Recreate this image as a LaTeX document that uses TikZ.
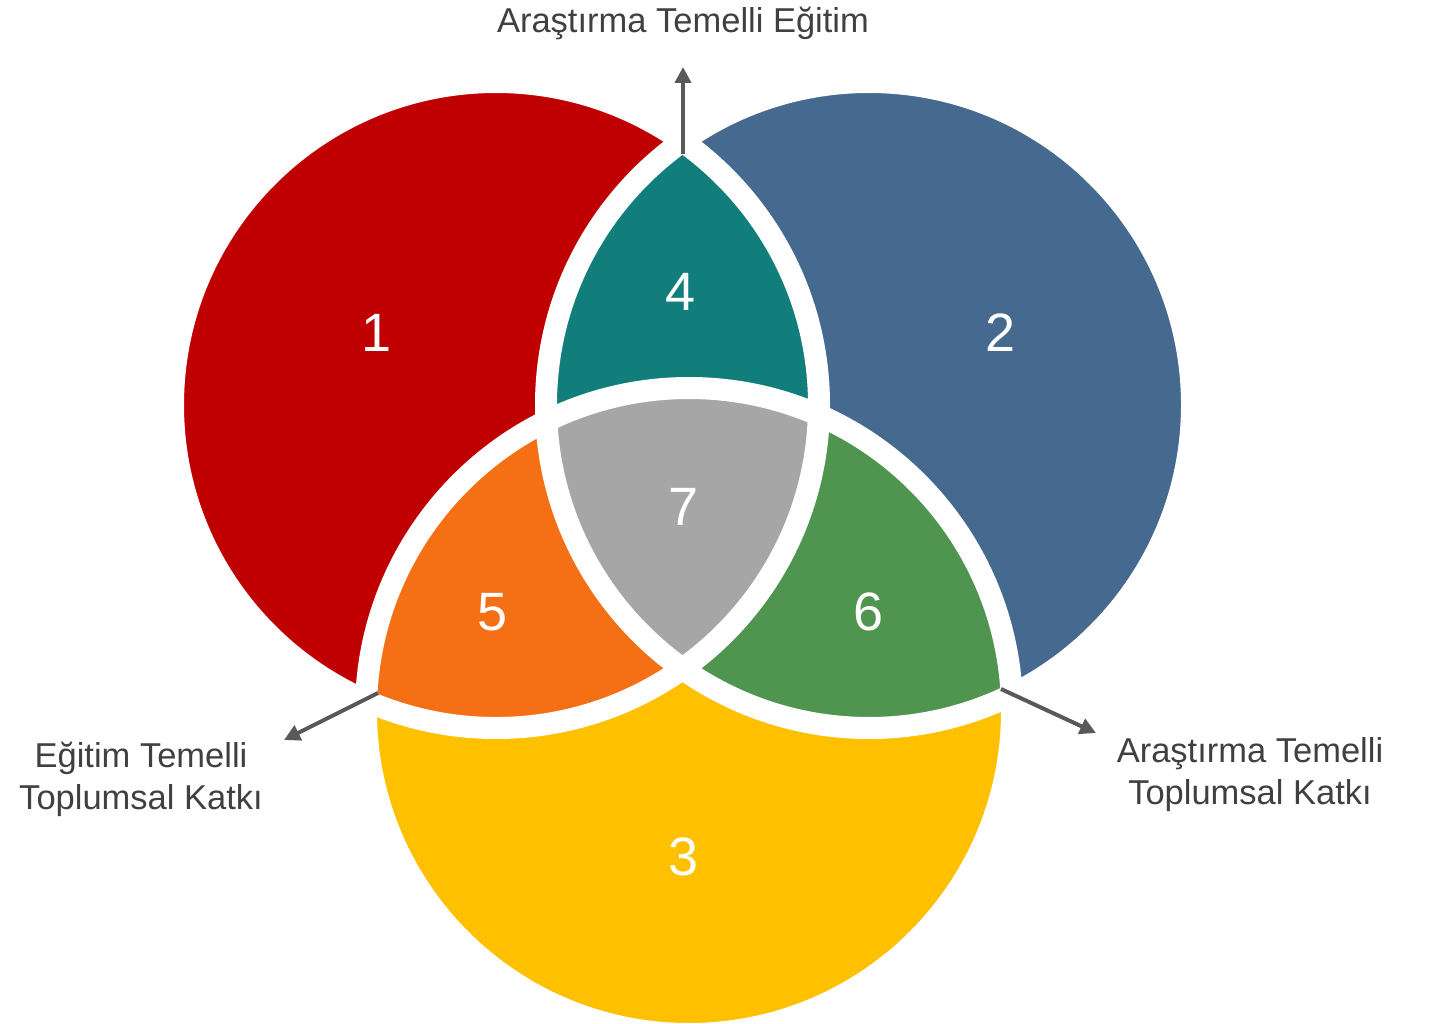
\documentclass[tikz,border=0pt]{standalone}
\usepackage{fontspec}
\setmainfont{Liberation Sans}
\usetikzlibrary{arrows.meta}
\definecolor{cred}{HTML}{C00000}
\definecolor{cblue}{HTML}{46698F}
\definecolor{cyellow}{HTML}{FFC000}
\definecolor{cteal}{HTML}{127E7B}
\definecolor{corange}{HTML}{F56F14}
\definecolor{cgreen}{HTML}{4F9550}
\definecolor{cgray}{HTML}{A6A6A6}
\definecolor{carrow}{HTML}{595959}
\definecolor{ctext}{HTML}{404040}
\tikzset{
  num/.style={text=white, font=\fontsize{54}{60}\selectfont, inner sep=0pt},
  lab/.style={text=ctext, font=\fontsize{34.5}{42}\selectfont, align=center, inner sep=0pt},
  arr/.style={draw=carrow, line width=4pt, -{Triangle[length=16pt,width=16pt]}},
  gap/.style={draw=white, line width=22pt}
}
\begin{document}
\begin{tikzpicture}[x=1pt,y=-1pt]
\useasboundingbox (0,0) rectangle (1429,1024);
\coordinate (R) at (496,405);
\coordinate (B) at (869,405);
\coordinate (Y) at (689,711);
\def\rad{323pt}
% base circles
\fill[cred] (R) circle[radius=\rad];
\fill[cblue] (B) circle[radius=\rad];
\fill[cyellow] (Y) circle[radius=\rad];
% pairwise intersections
\begin{scope}\clip (R) circle[radius=\rad]; \fill[cteal] (B) circle[radius=\rad]; \end{scope}
\begin{scope}\clip (R) circle[radius=\rad]; \fill[corange] (Y) circle[radius=\rad]; \end{scope}
\begin{scope}\clip (B) circle[radius=\rad]; \fill[cgreen] (Y) circle[radius=\rad]; \end{scope}
% triple intersection
\begin{scope}\clip (R) circle[radius=\rad]; \clip (B) circle[radius=\rad]; \fill[cgray] (Y) circle[radius=\rad]; \end{scope}
% white gaps
\draw[gap] (R) circle[radius=\rad];
\draw[gap] (B) circle[radius=\rad];
\draw[gap] (Y) circle[radius=\rad];
% numbers
\node[num] (n1) at (377,333) {1};
\node[num] (n2) at (1001,333) {2};
\node[num] (n3) at (684,857) {3};
\node[num] (n4) at (681,292) {4};
\node[num] (n5) at (493,612) {5};
\node[num] (n6) at (869,612) {6};
\node[num] (n7) at (684,507) {7};
% arrows
\coordinate (sT) at (683,154);
\coordinate (eT) at (683,67);
\coordinate (sL) at (378,693);
\coordinate (eL) at (284,740);
\coordinate (sR) at (1001,689);
\coordinate (eR) at (1096,733);
\draw[arr] (sT) -- (eT);
\draw[arr] (sL) -- (eL);
\draw[arr] (sR) -- (eR);
% labels
\node[lab] (lT) at (683,23) {Araştırma Temelli Eğitim};
\node[lab] (lL) at (141,779) {Eğitim Temelli\\Toplumsal Katkı};
\node[lab] (lR) at (1250,775) {Araştırma Temelli\\Toplumsal Katkı};
\end{tikzpicture}
\end{document}
